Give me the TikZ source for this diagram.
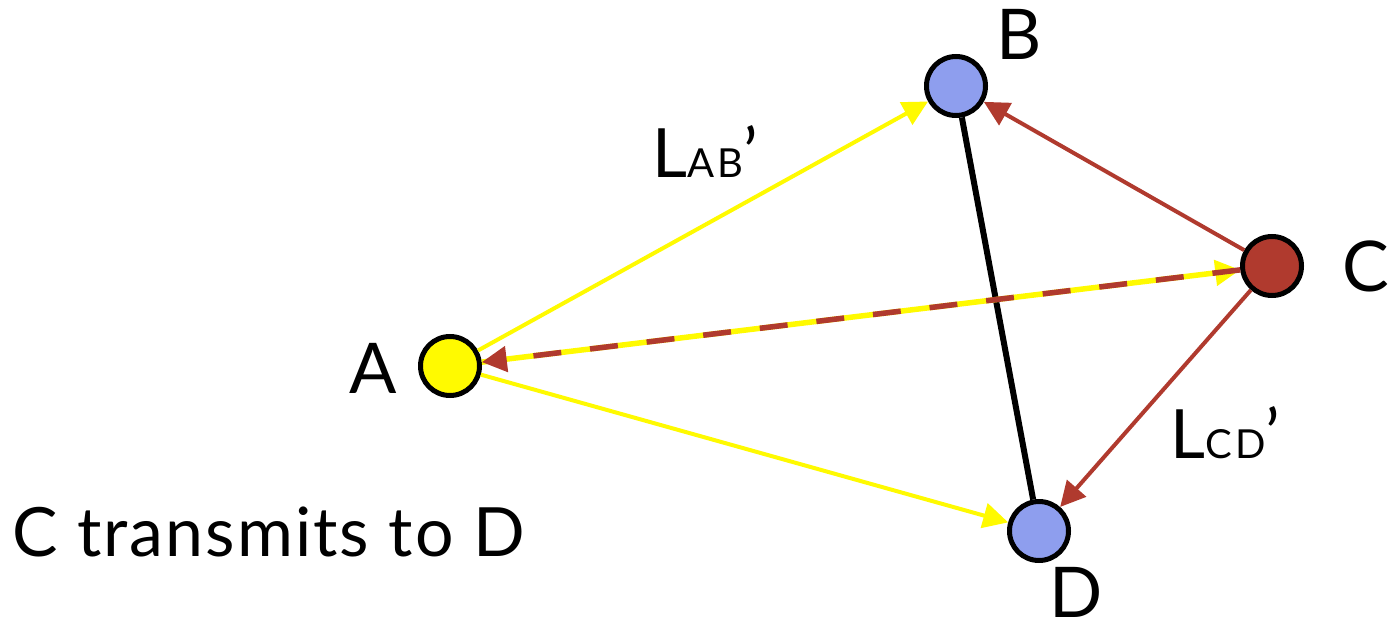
\documentclass[tikz,border=0pt]{standalone}
\usepackage{fontspec}
\setmainfont{Lato}[LetterSpace=3]
\newfontfamily\subfont{Lato}[LetterSpace=9]
\usetikzlibrary{arrows.meta}
\definecolor{nodeblue}{RGB}{142,158,238}
\definecolor{brick}{RGB}{176,58,46}
\definecolor{yel}{RGB}{255,250,0}
\begin{document}
\begin{tikzpicture}[x=1pt,y=-1pt,
  station/.style={circle,draw=black,line width=5pt,minimum size=59pt,inner sep=0pt},
  lbl/.style={font=\fontsize{70}{74}\selectfont,inner sep=0pt},
  txtstyle/.style={font=\fontsize{68}{72}\selectfont,inner sep=0pt},
  tip/.style={-{Triangle[length=25pt,width=25pt]}},
  yline/.style={draw=yel,line width=4pt,tip},
  bline/.style={draw=brick,line width=4pt,tip}]
\useasboundingbox (0,0) rectangle (1392,631);
\node[station,fill=yel] (A) at (450,366) {};
\node[station,fill=nodeblue] (B) at (956,86) {};
\node[station,fill=brick] (C) at (1272,266) {};
\node[station,fill=nodeblue] (D) at (1039,531) {};
\draw[line width=6pt] (B) -- (D);
\draw[yline] (A) -- (B);
\draw[yline] (A) -- (D);
\draw[bline] (C) -- (B);
\draw[bline] (C) -- (D);
\draw[yline,line width=5.5pt] (A) -- (C);
\draw[bline,line width=5.5pt,dash pattern=on 28pt off 29pt] (C) -- (A);
\node[lbl,anchor=base] (lA) at (373,393) {A};
\node[lbl,anchor=base] (lB) at (1019,60) {B};
\node[lbl,anchor=base] (lC) at (1366,291) {C};
\node[lbl,anchor=base] (lD) at (1076,617) {D};
\node[txtstyle,anchor=base west] (lab) at (652,178) {L{\subfont\fontsize{40}{42}\selectfont AB}’};
\node[txtstyle,anchor=base west] (lcd) at (1170,458) {L{\subfont\fontsize{40}{42}\selectfont CD}’};
\node[txtstyle,anchor=base west] (txt) at (12,556) {C transmits to D};
\end{tikzpicture}
\end{document}
